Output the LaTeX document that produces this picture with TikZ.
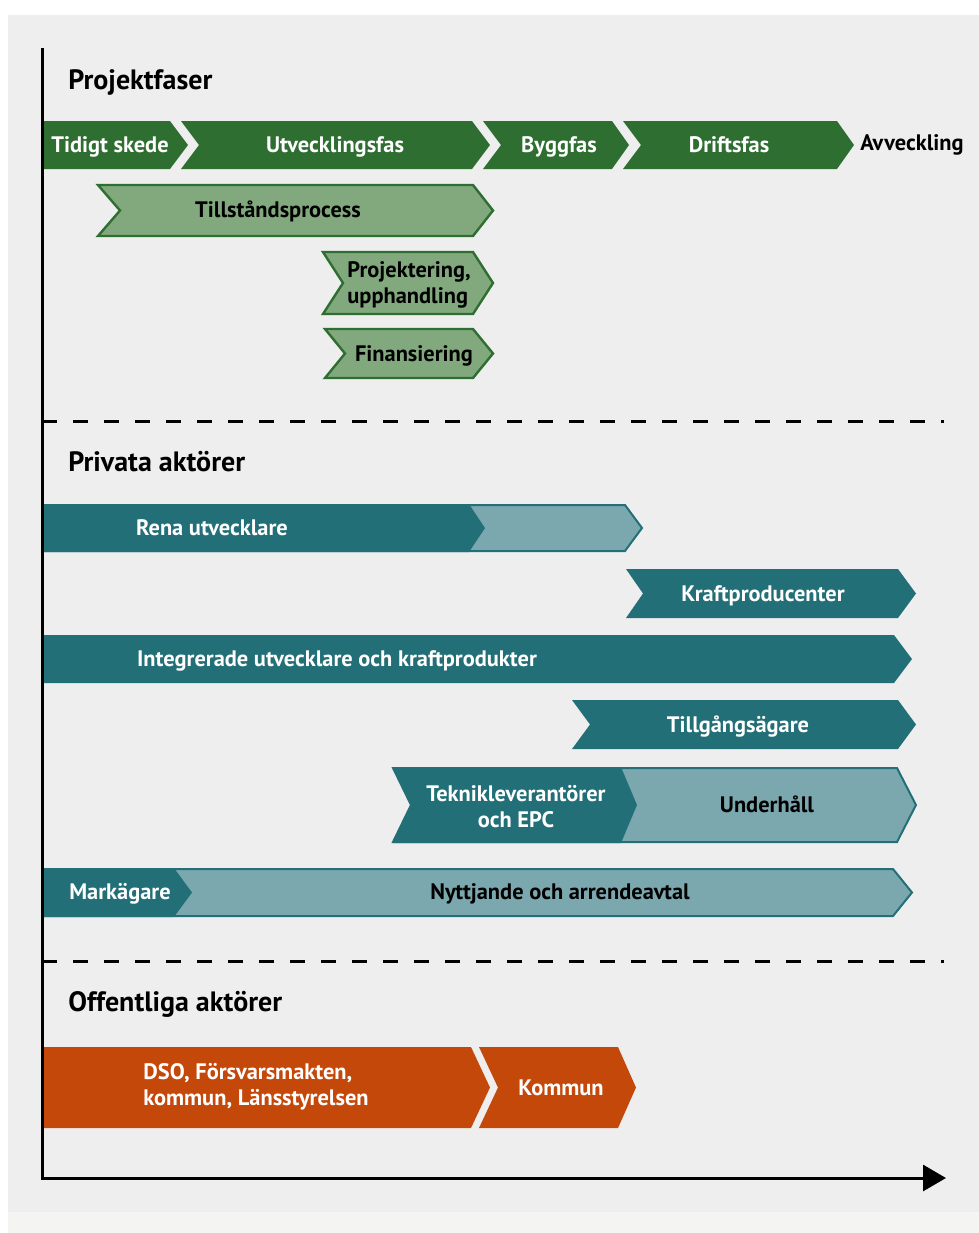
\documentclass[tikz,border=0pt]{standalone}
\usepackage{fontspec}
\setmainfont{PT Sans}
\usetikzlibrary{arrows.meta}

\definecolor{phasegreen}{HTML}{2E6E31}
\definecolor{lightgreen}{HTML}{82A97E}
\definecolor{darkteal}{HTML}{236F78}
\definecolor{lightteal}{HTML}{7BA8AE}
\definecolor{publicorange}{HTML}{C4480A}
\definecolor{panelgray}{HTML}{EEEEEE}
\definecolor{footgray}{HTML}{F4F4F3}

% chevron bar: style, left x, right x, top y, bottom y, notch depth, tip depth
\newcommand{\chevbar}[7]{%
  \pgfmathsetmacro\cbmid{(#4+#5)/2}
  \pgfmathsetmacro\cbnotch{#2+#6}
  \pgfmathsetmacro\cbtip{#3+#7}
  \path[#1] (#2,#4) -- (#3,#4) -- (\cbtip,\cbmid) -- (#3,#5) -- (#2,#5) -- (\cbnotch,\cbmid) -- cycle;
}

\begin{document}
\begin{tikzpicture}[x=0.5pt, y=-0.5pt,
    lbl/.style={font=\fontsize{11.2}{13}\selectfont\bfseries, inner sep=0pt, yshift=-1pt},
    onelbl/.style={lbl, text height=0.72em, text depth=0.22em},
    heading/.style={font=\fontsize{14}{16}\selectfont\bfseries, anchor=west, inner sep=0pt, yshift=-1pt},
    phase/.style={fill=phasegreen},
    permit/.style={fill=lightgreen, draw=phasegreen, line width=1.2pt},
    actor/.style={fill=darkteal},
    actorlight/.style={fill=lightteal, draw=darkteal, line width=1pt},
    public/.style={fill=publicorange},
    axis/.style={line width=1.5pt, -{Triangle[length=11.5pt, width=13pt]}},
    divider/.style={line width=1.5pt, dash pattern=on 7.5pt off 8pt}]
    \useasboundingbox (0,0) rectangle (979,1233);
    \fill[white] (0,0) rectangle (979,1233);
    \fill[panelgray] (8,15) rectangle (979,1212);
    \fill[footgray] (8,1212) rectangle (979,1233);

    % Projektfaser
    \node[heading] (phases) at (68,80) {Projektfaser};
    \chevbar{phase}{42}{170}{121}{169}{0}{18}
    \chevbar{phase}{181}{472}{121}{169}{18}{18}
    \chevbar{phase}{483}{612}{121}{169}{18}{17}
    \chevbar{phase}{623}{837}{121}{169}{18}{17}
    \foreach \x/\n/\t in {110/early/Tidigt skede, 335/devel/Utvecklingsfas,
        559/build/Byggfas, 729/operate/Driftsfas} {
        \node[onelbl, white] (\n) at (\x,145) {\t};
    }
    \node[onelbl, anchor=west] (decom) at (860,143) {Avveckling};

    \chevbar{permit}{98}{473}{185}{236}{22}{20}
    \chevbar{permit}{323}{473}{252}{314}{20}{20}
    \chevbar{permit}{325}{473}{329}{378}{20}{20}
    \node[onelbl] (permits) at (278,210) {Tillståndsprocess};
    \node[lbl, anchor=west, align=left] (design) at (347,283) {Projektering,\\upphandling};
    \node[onelbl] (finance) at (414,354) {Finansiering};

    \draw[divider] (42,421) -- (944,421);

    % Privata aktörer
    \node[heading] (private) at (68,460) {Privata aktörer};
    \chevbar{actorlight}{42}{625}{505}{551}{0}{17}
    \chevbar{actor}{42}{469}{504}{552}{0}{16}
    \node[onelbl, white] (devonly) at (212,528) {Rena utvecklare};

    \chevbar{actor}{626}{898}{569}{618}{17}{18}
    \node[onelbl, white] (producer) at (763,594) {Kraftproducenter};

    \chevbar{actor}{42}{894}{635}{683}{0}{18}
    \node[onelbl, white] (integrated) at (337,659) {Integrerade utvecklare och kraftprodukter};

    \chevbar{actor}{572}{898}{700}{749}{18}{18}
    \node[onelbl, white] (owner) at (738,725) {Tillgångsägare};

    \chevbar{actorlight}{393}{897}{768}{842}{18}{19}
    \chevbar{actor}{393}{621}{767}{843}{18}{16}
    \node[lbl, white, align=center] (supplier) at (516,805) {Teknikleverantörer\\och EPC};
    \node[onelbl] (maint) at (767,805) {Underhåll};

    \chevbar{actorlight}{42}{893}{869}{916}{0}{19}
    \chevbar{actor}{42}{174}{868}{917}{0}{18}
    \node[onelbl, white] (landowner) at (120,892) {Markägare};
    \node[onelbl] (lease) at (560,892) {Nyttjande och arrendeavtal};

    \draw[divider] (42,961) -- (944,961);

    % Offentliga aktörer
    \node[heading] (public) at (68,1002) {Offentliga aktörer};
    \chevbar{public}{42}{471}{1047}{1128}{0}{19}
    \chevbar{public}{479}{618}{1047}{1128}{19}{18}
    \node[lbl, white, anchor=west, align=left] (authorities) at (143,1085) {DSO, Försvarsmakten,\\kommun, Länsstyrelsen};
    \node[onelbl, white] (municipality) at (561,1088) {Kommun};

    % axes
    \coordinate (ytop) at (42,48);
    \coordinate (origin) at (42,1178);
    \coordinate (xend) at (946,1178);
    \draw[axis] (ytop) -- (origin) -- (xend);
\end{tikzpicture}
\end{document}
